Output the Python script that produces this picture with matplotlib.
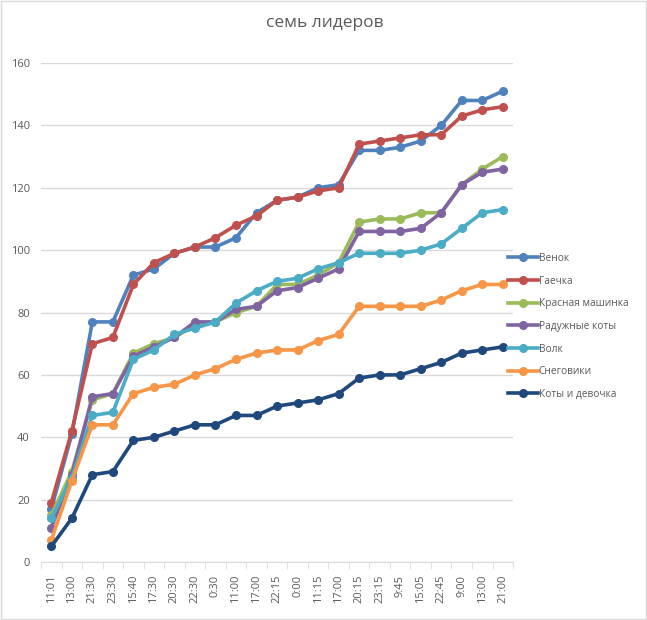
import matplotlib.pyplot as plt
from matplotlib.patches import Rectangle

times = ["11:01", "13:00", "21:30", "23:30", "15:40", "17:30", "20:30", "22:30",
         "0:30", "11:00", "17:00", "22:15", "0:00", "11:15", "17:00", "20:15",
         "23:15", "9:45", "15:05", "22:45", "9:00", "13:00", "21:00"]

venok = [17, 41, 77, 77, 92, 94, 99, 101, 101, 104, 112, 116, 117, 120, 121, 132, 132, 133, 135, 140, 148, 148, 151]
gaechka = [19, 42, 70, 72, 89, 96, 99, 101, 104, 108, 111, 116, 117, 119, 120, 134, 135, 136, 137, 137, 143, 145, 146]
krasnaya = [15, 29, 52, 54, 67, 70, 72, 76, 77, 80, 82, 89, 89, 92, 96, 109, 110, 110, 112, 112, 121, 126, 130]
raduzhnye = [11, 28, 53, 54, 66, 69, 72, 77, 77, 81, 82, 87, 88, 91, 94, 106, 106, 106, 107, 112, 121, 125, 126]
volk = [14, 27, 47, 48, 65, 68, 73, 75, 77, 83, 87, 90, 91, 94, 96, 99, 99, 99, 100, 102, 107, 112, 113]
snegoviki = [7, 26, 44, 44, 54, 56, 57, 60, 62, 65, 67, 68, 68, 71, 73, 82, 82, 82, 82, 84, 87, 89, 89]
koty_devochka = [5, 14, 28, 29, 39, 40, 42, 44, 44, 47, 47, 50, 51, 52, 54, 59, 60, 60, 62, 64, 67, 68, 69]

series = [
    ("Венок", venok, "#4F81BD"),
    ("Гаечка", gaechka, "#C0504D"),
    ("Красная машинка", krasnaya, "#9BBB59"),
    ("Радужные коты", raduzhnye, "#8064A2"),
    ("Волк", volk, "#4BACC6"),
    ("Снеговики", snegoviki, "#F79646"),
    ("Коты и девочка", koty_devochka, "#1F497D"),
]

plt.rcParams['font.family'] = ['Open Sans', 'DejaVu Sans']
text_col = "#595959"

fig = plt.figure(figsize=(6.47, 6.2), dpi=100)
ax = fig.add_axes([0.0634, 0.0935, 0.7296, 0.8048])

x = list(range(len(times)))
for name, vals, col in series:
    ax.plot(x, vals, color=col, lw=2.6, marker="o", markersize=5.5, label=name)

ax.set_ylim(0, 160)
ax.set_xlim(-0.5, len(times) - 0.5)
ax.set_yticks(range(0, 161, 20))
ax.set_xticks(x)
ax.set_xticklabels(times, rotation=90)
ax.set_xticks([i - 0.5 for i in range(len(times) + 1)], minor=True)
ax.tick_params(axis="x", which="major", length=0, pad=9, labelsize=8, labelcolor=text_col)
ax.tick_params(axis="x", which="minor", length=5, color="#d9d9d9")
ax.tick_params(axis="y", length=0, pad=8, labelsize=8, labelcolor=text_col)

ax.grid(axis="y", color="#d9d9d9", lw=1)
ax.set_axisbelow(True)
for s in ["top", "right", "left"]:
    ax.spines[s].set_visible(False)
ax.spines["bottom"].set_color("#d9d9d9")

fig.text(0.502, 0.963, "семь лидеров", ha="center", va="center", fontsize=12.5, color=text_col)

leg = ax.legend(loc="center left", bbox_to_anchor=(0.99, 0.472), frameon=False,
                fontsize=7.3, labelcolor=text_col, handlelength=2.9, handletextpad=0.1,
                labelspacing=1.15, borderaxespad=0, borderpad=0)

fig.patches.append(Rectangle((0.002, 0.002), 0.996, 0.996, transform=fig.transFigure,
                             fill=False, edgecolor="#d9d9d9", lw=1))

fig.savefig("out.png", dpi=100)
